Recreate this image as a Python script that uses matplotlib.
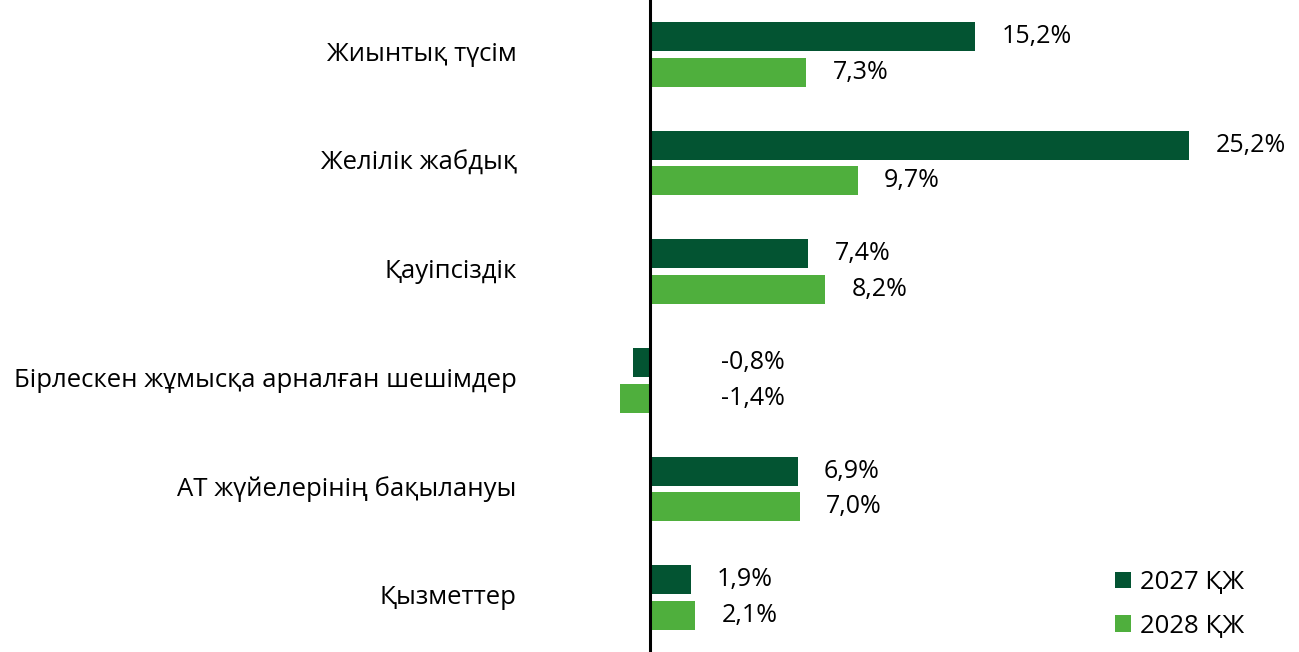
import numpy as np
import matplotlib.pyplot as plt

# categories and growth values (%)
categories = ['Жиынтық түсім', 'Желілік жабдық', 'Қауіпсіздік',
              'Бірлескен жұмысқа арналған шешімдер',
              'АТ жүйелерінің бақылануы', 'Қызметтер']
fy2027 = [15.2, 25.2, 7.4, -0.8, 6.9, 1.9]
fy2028 = [7.3, 9.7, 8.2, -1.4, 7.0, 2.1]
series_names = ['2027 ҚЖ', '2028 ҚЖ']

dark_green = '#035432'
light_green = '#4faf3d'
fs = 18.5

plt.rcParams['font.family'] = ['Open Sans', 'DejaVu Sans']

fig = plt.figure(figsize=(12.99, 6.52), dpi=100)
ax = fig.add_axes([0.43, 0.0, 0.57, 1.0])

y = np.arange(len(categories))
bar_h = 0.267
off = 0.165

ax.barh(y - off, fy2027, height=bar_h, color=dark_green, label=series_names[0])
ax.barh(y + off, fy2028, height=bar_h, color=light_green, label=series_names[1])

# value labels: to the right of the bar end, negatives to the right of the axis
for vals, dy in ((fy2027, -off), (fy2028, off)):
    for i, v in enumerate(vals):
        txt = f'{v:.1f}%'.replace('.', ',')
        x0 = v if v >= 0 else 0
        dx = 19 if v >= 0 else 51
        ax.annotate(txt, (x0, i + dy), xytext=(dx, 0), textcoords='offset points',
                    va='center', ha='left', fontsize=18)

# category names, right-aligned left of the zero line
for i, name in enumerate(categories):
    ax.annotate(name, (0, i), xytext=(-96, 0), textcoords='offset points',
                va='center', ha='right', fontsize=fs, annotation_clip=False)

ax.set_xlim(-4.27, 30.33)
ax.set_ylim(5.5, -0.5)
ax.axvline(0, color='black', lw=2.2)

ax.set_xticks([])
ax.set_yticks([])
for s in ax.spines.values():
    s.set_visible(False)

ax.legend(loc='upper left', bbox_to_anchor=(1115 / 1299, 1 - 570 / 652),
          bbox_transform=fig.transFigure, frameon=False,
          fontsize=fs, handlelength=0.62, handleheight=0.62, handletextpad=0.35,
          labelspacing=0.72, borderaxespad=0, borderpad=0)

fig.savefig('out.png', dpi=100)
